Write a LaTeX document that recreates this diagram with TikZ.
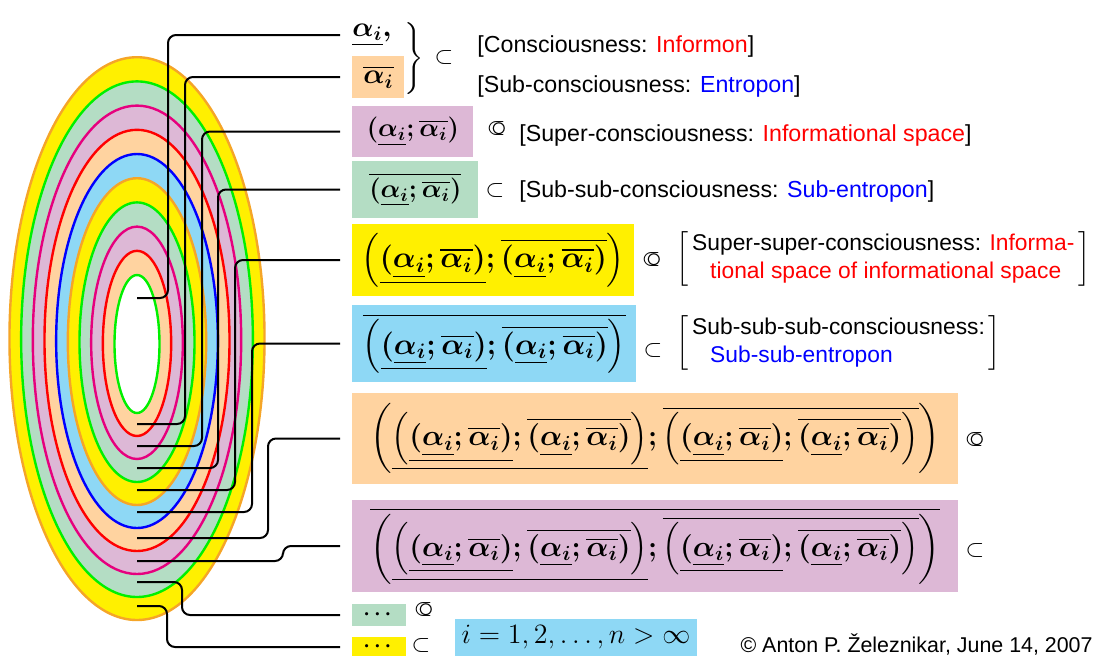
\RequirePackage{fix-cm}
\documentclass[tikz,border=0pt]{standalone}
\usepackage{amsmath,amssymb,graphicx}
\usepackage[no-math]{fontspec}
\newfontfamily\hv{Liberation Sans}
\usepackage{tikz}
\usetikzlibrary{calc}

\definecolor{yell}{RGB}{255,240,0}
\definecolor{orng}{RGB}{245,165,40}
\definecolor{mint}{RGB}{180,221,196}
\definecolor{lgrn}{RGB}{0,240,0}
\definecolor{mauve}{RGB}{221,184,214}
\definecolor{mgnt}{RGB}{230,0,126}
\definecolor{peach}{RGB}{255,211,160}
\definecolor{sky}{RGB}{142,216,245}

\newcommand{\ai}{\underline{\alpha_i}}
\newcommand{\bi}{\overline{\alpha_i}}
\newcommand{\apair}{(\ai;\bi)}
\newcommand{\aquad}{\left(\underline{\apair};\overline{\apair}\right)}
\newcommand{\aoct}{\left(\underline{\aquad};\overline{\aquad}\right)}
\newcommand{\subo}{\makebox[0pt][l]{$\subset$}\kern.2em\raisebox{-.075em}{\scalebox{1.3}{$\circ$}}}

\tikzset{
  conn/.style={line width=1pt, rounded corners=4pt, shorten >=6pt},
  lbl/.style={font=\hv\fontsize{11.6}{14}\selectfont, inner sep=0pt},
  sym/.style={font=\fontsize{12}{14}\selectfont, inner sep=0pt},
  fbox/.style={anchor=west, inner sep=0pt, font=\fontsize{#1}{#1}\selectfont\boldmath},
  fbox/.default=13,
}

\begin{document}
\begin{tikzpicture}[x=0.5pt,y=-0.5pt]
 \useasboundingbox (0,0) rectangle (1094,655);
 % nested ellipses, outside in
 \foreach \k/\fc/\dc [evaluate=\k as \rx using (22.5+11.67*\k)/2, evaluate=\k as \ry using (69+23.6*\k)/2,
  evaluate=\k as \cy using 344-0.6*\k] in {9/yell/orng, 8/mint/lgrn, 7/mauve/mgnt, 6/peach/red, 5/sky/blue,
   4/yell/orng, 3/mint/lgrn, 2/mauve/mgnt, 1/peach/red, 0/white/lgrn}
   \filldraw[fill=\fc,draw=\dc,line width=1.2pt] (137,\cy) ellipse [x radius=\rx pt, y radius=\ry pt];

 % formulas
 \node[fbox=14] (f1) at (352,35) {$\ai,$};
 \node[fbox=14,fill=peach,minimum width=26pt,minimum height=21pt] (f2) at (352,77) {$\bi$};
 \node[fbox,fill=mauve,minimum width=60.5pt,minimum height=25.5pt] (f3) at (352,131.5) {$\apair$};
 \node[fbox,fill=mint,minimum width=63pt,minimum height=28.5pt] (f4) at (352,189.5) {$\overline{\apair}$};
 \node[fbox=15,fill=yell,minimum width=141pt,minimum height=36pt] (f5) at (352,260) {$\aquad$};
 \node[fbox=15,fill=sky,minimum width=142pt,minimum height=38.5pt] (f6) at (352,343.5) {$\overline{\aquad}$};
 \node[fbox=14.6,fill=peach,minimum width=303pt,minimum height=45.5pt] (f7) at (352,438.5) {$\aoct$};
 \node[fbox=14.6,fill=mauve,minimum width=303pt,minimum height=46pt] (f8) at (352,546) {$\overline{\aoct}$};
 \node[fbox=10.5,fill=mint,minimum width=27pt,minimum height=11pt] (f9) at (352,615) {$\cdots$};
 \node[fbox=10.5,fill=yell,minimum width=27pt,minimum height=10pt] (f10) at (352,647) {$\cdots$};

 % connectors from the rings
 \foreach \n/\y in {1/298, 2/424, 3/446, 4/468, 5/490, 6/512, 7/538, 8/561, 9/582, 10/606}
   \coordinate (s\n) at (137,\y);
 \foreach \n/\dx in {1/31, 2/48, 3/65, 4/81, 5/98, 6/115, 7/131, 8/146, 9/45, 10/30}
   \draw[conn] (s\n) -- ++(\dx,0) |- (f\n.west);

 % brace and relations
 \node[sym] (br) at (413,59) {$\left.\vcenter{\hbox{\rule{0pt}{36pt}}}\right\}$};
 \node[sym] (r1) at (444,57) {$\subset$};
 \node[sym] (r3) at (497,129) {\subo};
 \node[sym] (r4) at (495,190) {$\subset$};
 \node[sym] (r5) at (652,260) {\subo};
 \node[sym] (r6) at (653,350) {$\subset$};
 \node[sym] (r7) at (975,440) {\subo};
 \node[sym] (r8) at (975,550) {$\subset$};
 \node[sym] (r9) at (424,610) {\subo};
 \node[sym] (r10) at (421,645) {$\subset$};

 % levels
 \node[lbl,anchor=base west] (t1) at (477,52) {[Consciousness: \textcolor{red}{Informon}]};
 \node[lbl,anchor=base west] (t2) at (477,92) {[Sub-consciousness: \textcolor{blue}{Entropon}]};
 \node[lbl,anchor=base west] (t3) at (519,141) {[Super-consciousness: \textcolor{red}{Informational space}]};
 \node[lbl,anchor=base west] (t4) at (519,197) {[Sub-sub-consciousness: \textcolor{blue}{Sub-entropon}]};
 \node[lbl,font=\hv\fontsize{11.4}{14}\selectfont,anchor=west] (t5) at (676,259) {$\left[\begin{tabular}{@{\,}l@{\,}}Super-super-consciousness: \textcolor{red}{Informa-}\\
   \hspace*{9pt}\textcolor{red}{tional space of informational space}\end{tabular}\right]$};
 \node[lbl,font=\hv\fontsize{11.4}{14}\selectfont,anchor=west] (t6) at (676,343) {$\left[\begin{tabular}{@{\,}l@{\,}}Sub-sub-sub-consciousness:\\
   \hspace*{9pt}\textcolor{blue}{Sub-sub-entropon}\end{tabular}\right]$};

 \node[fill=sky,minimum width=121pt,minimum height=18.5pt,inner sep=0pt,font=\fontsize{14}{16}\selectfont] (ib) at (576,637) {$i=1,2,\ldots,n>\infty$};
 \node[font=\hv\fontsize{10.7}{12}\selectfont,inner sep=0pt,anchor=base east] (cp) at (1093,652) {\textcopyright\ Anton P. Železnikar, June 14, 2007};
\end{tikzpicture}
\end{document}
